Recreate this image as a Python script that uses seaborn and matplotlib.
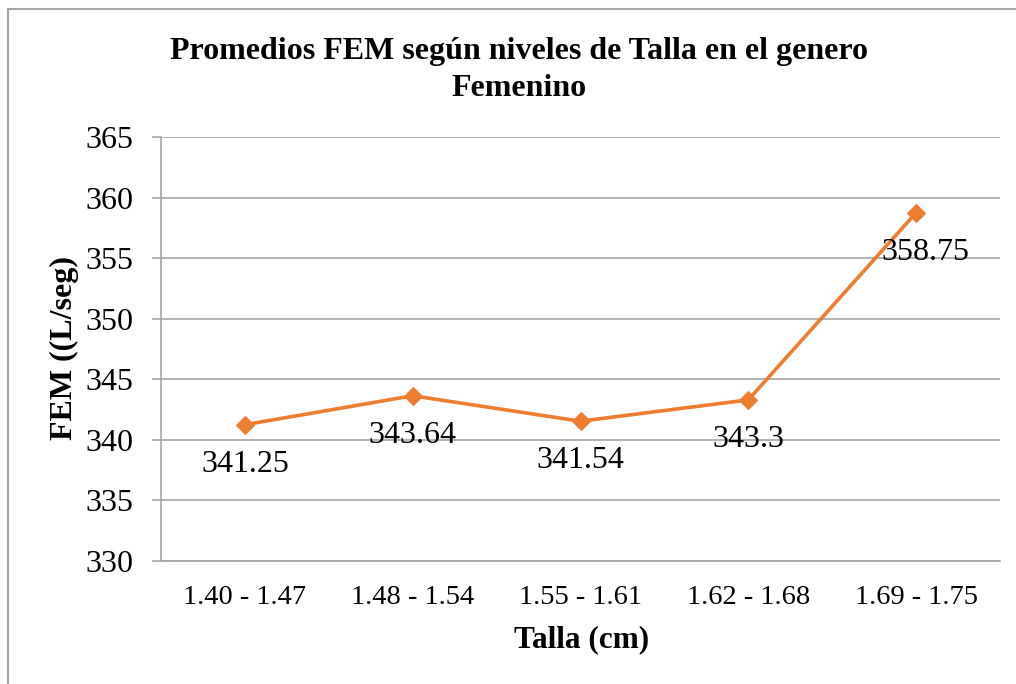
import matplotlib
matplotlib.use("Agg")
import matplotlib.pyplot as plt
import seaborn as sns
import pandas as pd
from matplotlib.lines import Line2D

# data
tallas = ['1.40 - 1.47', '1.48 - 1.54', '1.55 - 1.61', '1.62 - 1.68', '1.69 - 1.75']
fem = [341.25, 343.64, 341.54, 343.3, 358.75]
etiquetas = ['341.25', '343.64', '341.54', '343.3', '358.75']
yticks = [330, 335, 340, 345, 350, 355, 360, 365]

df = pd.DataFrame({'talla': tallas, 'fem': fem})

sns.set_theme(style="white")
plt.rcParams['font.family'] = ['Liberation Serif', 'DejaVu Serif']
plt.rcParams['text.color'] = 'black'
plt.rcParams['xtick.color'] = 'black'
plt.rcParams['ytick.color'] = 'black'

fig = plt.figure(figsize=(10.16, 6.84), dpi=100)
ax = fig.add_axes([161/1016, 1 - 561/684, 839/1016, 424/684])

gris = '#a6a6a6'
naranja = '#ed7d31'

# gridlines behind the line
for y in yticks:
    ax.axhline(y, color=gris, linewidth=1.2, zorder=0)

sns.lineplot(data=df, x='talla', y='fem', ax=ax, color=naranja, linewidth=2.6,
             marker='D', markersize=9.5, markeredgecolor=naranja, sort=False, zorder=3)

# data labels below the points
for i, (v, t) in enumerate(zip(fem, etiquetas)):
    dx = 7 if i == len(fem) - 1 else 0
    ax.annotate(t, (i, v), xytext=(dx, -28.5), textcoords='offset points',
                ha='center', va='center', fontsize=23, color='black', zorder=4)

ax.set_xlim(-0.5, len(tallas) - 0.5)
ax.set_ylim(330, 365)
ax.set_yticks(yticks)
ax.set_yticklabels([str(y) for y in yticks], fontsize=23)
ax.tick_params(axis='y', direction='out', length=6.5, width=1.2, color=gris,
               labelcolor='black', pad=13, left=True)
ax.tick_params(axis='x', labelsize=20.5, labelcolor='black', bottom=False, pad=11)

for s in ['top', 'right']:
    ax.spines[s].set_visible(False)
ax.spines['left'].set_color(gris)
ax.spines['bottom'].set_color(gris)
ax.spines['left'].set_linewidth(1.2)
ax.spines['bottom'].set_linewidth(1.2)

ax.set_xlabel('')
ax.set_ylabel('')
fig.text(519/1016, 1 - 52/684, 'Promedios FEM según niveles de Talla en el genero',
         ha='center', va='center', fontsize=23, fontweight='bold', color='black')
fig.text(519/1016, 1 - 88/684, 'Femenino', ha='center', va='center',
         fontsize=23, fontweight='bold', color='black')
fig.text(64/1016, 1 - 348/684, 'FEM ((L/seg)', rotation=90, ha='center', va='center',
         fontsize=23, fontweight='bold', color='black')
fig.text(582/1016, 1 - 640/684, 'Talla (cm)', ha='center', va='center',
         fontsize=22.5, fontweight='bold', color='black')

# chart area border (left and top visible)
fig.add_artist(Line2D([8/1016, 8/1016], [0, 1 - 9/684], transform=fig.transFigure,
                      color=gris, linewidth=1.5))
fig.add_artist(Line2D([8/1016, 1], [1 - 9/684, 1 - 9/684], transform=fig.transFigure,
                      color=gris, linewidth=1.5))

fig.savefig('out.png', dpi=100)
